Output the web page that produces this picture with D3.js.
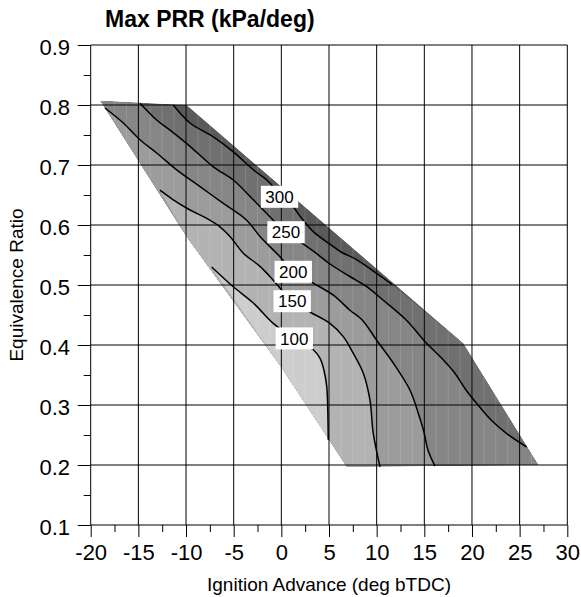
<!DOCTYPE html>
<html>
<head>
<meta charset="utf-8">
<script src="https://cdn.jsdelivr.net/npm/d3@7"></script>
<style>
  html, body { margin: 0; padding: 0; background: #fff; }
  svg { display: block; font-family: "Liberation Sans", Arial, Helvetica, sans-serif; }
</style>
</head>
<body>
<svg id="chart" width="581" height="597"></svg>
<script>
// Contour levels of maximum pressure rise rate (kPa/deg)
const levels = [100, 150, 200, 250, 300];

// Outline of the measured operating region: [ignition advance, equivalence ratio]
const region = [
  [-19.0, 0.807], [-9.93, 0.580], [-0.10, 0.365], [6.85, 0.197],
  [26.97, 0.200], [19.09, 0.403], [-9.93, 0.800]
];

// Iso-lines, each running from one edge of the region to another
const contour100 = [
  [-7.31, 0.530], [-5.04, 0.497], [-2.94, 0.470], [-0.85, 0.436], [1.36, 0.411],
  [3.35, 0.392], [4.05, 0.378], [4.47, 0.358], [4.76, 0.331], [4.87, 0.292], [4.92, 0.242]
];
const contour150 = [
  [-12.73, 0.658], [-11.34, 0.642], [-9.58, 0.625], [-7.83, 0.611], [-6.44, 0.597],
  [-5.39, 0.581], [-3.99, 0.553], [-2.24, 0.531], [-0.85, 0.508], [1.14, 0.473],
  [3.00, 0.455], [5.10, 0.436], [6.50, 0.414], [7.55, 0.386], [8.60, 0.353],
  [9.30, 0.308], [9.64, 0.253], [10.35, 0.197]
];
const contour200 = [
  [-18.50, 0.795], [-16.58, 0.770], [-14.83, 0.742], [-13.08, 0.720], [-10.98, 0.692],
  [-8.53, 0.664], [-6.09, 0.636], [-3.64, 0.608], [-2.24, 0.581], [-0.14, 0.547],
  [1.25, 0.522], [3.35, 0.503], [5.45, 0.483], [7.20, 0.458], [8.46, 0.442],
  [10.00, 0.408], [11.74, 0.370], [13.49, 0.325], [14.33, 0.288], [14.96, 0.255],
  [15.38, 0.225], [16.12, 0.198]
];
const contour250 = [
  [-14.83, 0.803], [-13.08, 0.775], [-11.68, 0.758], [-9.58, 0.731], [-7.14, 0.697],
  [-5.04, 0.675], [-2.94, 0.642], [-0.85, 0.608], [0.49, 0.588], [1.96, 0.572],
  [3.64, 0.553], [5.10, 0.535], [7.10, 0.515], [8.88, 0.498], [10.66, 0.475],
  [13.07, 0.442], [15.23, 0.403], [16.75, 0.379], [18.11, 0.355], [19.37, 0.325],
  [20.52, 0.302], [22.00, 0.275], [23.68, 0.252], [25.74, 0.230]
];
const contour300 = [
  [-11.34, 0.800], [-9.58, 0.770], [-7.14, 0.747], [-5.04, 0.722], [-2.94, 0.692],
  [-1.19, 0.670], [-0.19, 0.647], [1.08, 0.633], [2.13, 0.611], [3.35, 0.589],
  [5.10, 0.568], [6.26, 0.555], [7.93, 0.542], [10.03, 0.519], [11.61, 0.501]
];

// Where each level's value is written along its line
const labelPoints = [[1.36, 0.411], [1.14, 0.473], [1.25, 0.522], [0.49, 0.588], [-0.19, 0.647]];

// Axis ticks
const xMajor = d3.range(-20, 30.01, 5);
const xMinor = d3.range(-17.5, 30, 5);
const yMajor = d3.range(1, 10).map(d => d / 10);
const yMinor = d3.range(1, 9).map(d => d / 10 + 0.05);

const contours = [contour100, contour150, contour200, contour250, contour300]
  .map((pts, i) => ({ level: levels[i], pts, label: labelPoints[i] }));

const svg = d3.select("#chart");
const x = d3.scaleLinear().domain([-20, 30]).range([90.7, 567.3]);
const y = d3.scaleLinear().domain([0.1, 0.9]).range([525, 45]);

const shade = d3.scaleThreshold()
  .domain(levels)
  .range(["#cdcdcd", "#b3b3b3", "#9c9c9c", "#868686", "#707070", "#5a5a5a"]);

const px = d => [x(d[0]), y(d[1])];
const regionPx = region.map(px);
const n = regionPx.length;

const smooth = d3.line().curve(d3.curveCatmullRom.alpha(0.5));

// index of the region edge closest to a pixel point
function nearestEdge(p) {
  let best = 0, bestD = Infinity;
  for (let i = 0; i < n; i++) {
    const a = regionPx[i], b = regionPx[(i + 1) % n];
    const dx = b[0] - a[0], dy = b[1] - a[1];
    let t = ((p[0] - a[0]) * dx + (p[1] - a[1]) * dy) / (dx * dx + dy * dy);
    t = Math.max(0, Math.min(1, t));
    const ex = a[0] + t * dx - p[0], ey = a[1] + t * dy - p[1];
    const dd = ex * ex + ey * ey;
    if (dd < bestD) { bestD = dd; best = i; }
  }
  return best;
}

// area on the low-value side of an iso-line: the line, then back along the outline
function lowSidePath(pts) {
  const line = pts.map(px);
  const is = nearestEdge(line[0]);
  const ie = nearestEdge(line[line.length - 1]);
  const verts = [];
  let k = ie;
  for (let guard = 0; guard < n; guard++) {
    verts.push(regionPx[k]);
    if (k === (is + 1) % n) break;
    k = (k - 1 + n) % n;
  }
  return smooth(line) + verts.map(v => `L${v[0]},${v[1]}`).join("") + "Z";
}

const defs = svg.append("defs");
defs.append("clipPath").attr("id", "regionClip")
  .append("path").attr("d", "M" + regionPx.join("L") + "Z");

// filled bands
const fills = svg.append("g").attr("clip-path", "url(#regionClip)");
fills.append("path")
  .attr("d", "M" + regionPx.join("L") + "Z")
  .attr("fill", shade(levels[levels.length - 1] + 1));
contours.slice().reverse().forEach(c => {
  fills.append("path")
    .attr("d", lowSidePath(c.pts))
    .attr("fill", shade(c.level - 1));
});

// faint cell seams of the gridded surface
fills.append("g").selectAll("line")
  .data(d3.range(-20, 30, 1.25))
  .join("line")
  .attr("x1", d => x(d)).attr("x2", d => x(d))
  .attr("y1", y(0.9)).attr("y2", y(0.1))
  .attr("stroke", "#ffffff").attr("stroke-opacity", 0.14).attr("stroke-width", 1);

// grid
const grid = svg.append("g").attr("stroke", "#000").attr("stroke-width", 1);
grid.selectAll(".gx").data(xMajor).join("line")
  .attr("x1", d => x(d)).attr("x2", d => x(d))
  .attr("y1", y(0.1)).attr("y2", y(0.9));
grid.selectAll(".gy").data(yMajor).join("line")
  .attr("x1", x(-20)).attr("x2", x(30))
  .attr("y1", d => y(d)).attr("y2", d => y(d));

// iso-lines
svg.append("g").selectAll("path")
  .data(contours).join("path")
  .attr("d", c => smooth(c.pts.map(px)))
  .attr("fill", "none").attr("stroke", "#000").attr("stroke-width", 1.5);

// level labels on white boxes
const lab = svg.append("g").selectAll("g")
  .data(contours).join("g")
  .attr("transform", c => `translate(${x(c.label[0])},${y(c.label[1])})`);
lab.append("text")
  .attr("text-anchor", "middle").attr("dy", "0.36em")
  .attr("font-size", 17).attr("fill", "#000")
  .text(c => c.level);
lab.each(function () {
  const g = d3.select(this);
  const bb = g.select("text").node().getBBox();
  g.insert("rect", "text")
    .attr("x", bb.x - 4.5).attr("y", -11)
    .attr("width", bb.width + 9).attr("height", 22)
    .attr("fill", "#fff");
});

// axes
const tickFont = 22;
function styleAxis(g) {
  g.select(".domain").remove();
  g.selectAll(".tick line").attr("stroke", "#000");
  g.selectAll(".tick text").attr("fill", "#000").attr("font-size", tickFont)
    .attr("font-family", "Liberation Sans, Arial, sans-serif");
}
svg.append("g").attr("transform", `translate(0,${y(0.1)})`)
  .call(d3.axisBottom(x).tickValues(xMajor).tickSize(12).tickPadding(7.4).tickFormat(d => String(d)))
  .call(styleAxis);
svg.append("g").attr("transform", `translate(0,${y(0.1)})`)
  .call(d3.axisBottom(x).tickValues(xMinor).tickSize(7).tickFormat(""))
  .call(styleAxis);
svg.append("g").attr("transform", `translate(${x(-20)},0)`)
  .call(d3.axisLeft(y).tickValues(yMajor).tickSize(13).tickPadding(7.7).tickFormat(d => d.toFixed(1)))
  .call(styleAxis)
  .call(g => g.selectAll(".tick text").attr("dy", "0.45em"));
svg.append("g").attr("transform", `translate(${x(-20)},0)`)
  .call(d3.axisLeft(y).tickValues(yMinor).tickSize(7).tickFormat(""))
  .call(styleAxis);

// titles
svg.append("text")
  .attr("x", 105).attr("y", 26.5)
  .attr("font-size", 23).attr("font-weight", "bold").attr("fill", "#000")
  .text("Max PRR (kPa/deg)");
svg.append("text")
  .attr("x", (x(-20) + x(30)) / 2).attr("y", 590.5)
  .attr("text-anchor", "middle").attr("font-size", 19).attr("fill", "#000")
  .text("Ignition Advance (deg bTDC)");
svg.append("text")
  .attr("transform", `translate(23,${(y(0.1) + y(0.9)) / 2}) rotate(-90)`)
  .attr("text-anchor", "middle").attr("font-size", 19).attr("fill", "#000")
  .text("Equivalence Ratio");
</script>
</body>
</html>
